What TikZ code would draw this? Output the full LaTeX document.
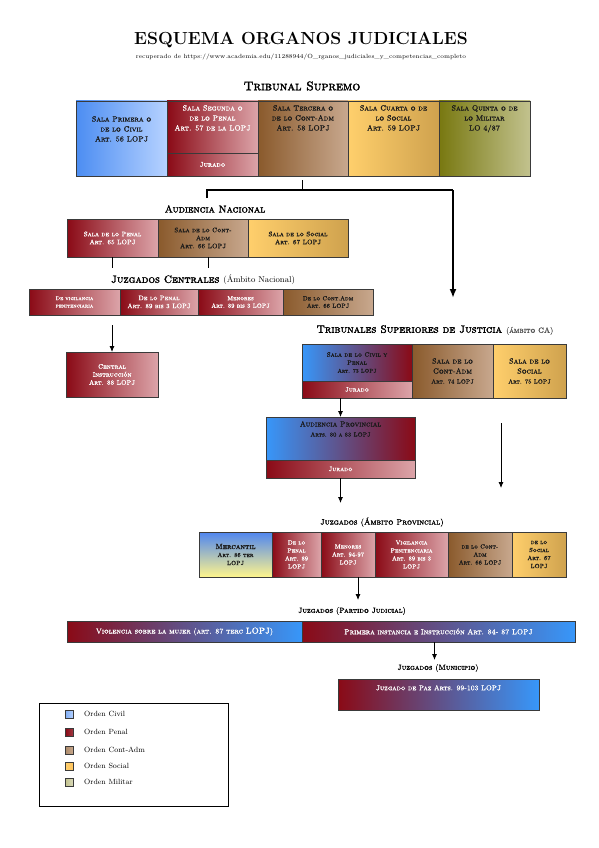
\documentclass[tikz,border=0pt]{standalone}
\usepackage{fontspec}
\newfontfamily\scb{lmromancaps10-regular.otf}[FakeBold=1.5]
\newfontfamily\scbb{lmromancaps10-regular.otf}[FakeBold=2.5]
\usetikzlibrary{arrows.meta}
\definecolor{bord}{HTML}{3A3A3A}
\definecolor{civL}{HTML}{4C8DF2}
\definecolor{civR}{HTML}{B6D2FF}
\definecolor{penL}{HTML}{8A0A16}
\definecolor{penR}{HTML}{DCA4A9}
\definecolor{canL}{HTML}{8A5A2C}
\definecolor{canR}{HTML}{C8A88E}
\definecolor{socL}{HTML}{FFCF6C}
\definecolor{socR}{HTML}{CFA24E}
\definecolor{milL}{HTML}{787810}
\definecolor{milR}{HTML}{C2C28E}
\definecolor{bluM}{HTML}{3797FA}
\definecolor{merB}{HTML}{4F86F0}
\definecolor{merM}{HTML}{D8E2EC}
\definecolor{merY}{HTML}{FFF58C}
\definecolor{txtD}{HTML}{1A1A1A}
\definecolor{txtG}{HTML}{555555}
\tikzset{
  box/.style={draw=bord, line width=0.9pt, inner sep=1pt, outer sep=0pt, align=center,
    font=\fontsize{6.5}{8}\selectfont\scb, text=txtD},
  civ/.style={left color=civL, right color=civR},
  pen/.style={left color=penL, right color=penR, text=white},
  can/.style={left color=canL, right color=canR},
  soc/.style={left color=socL, right color=socR},
  mil/.style={left color=milL, right color=milR},
  merc/.style={top color=merB, middle color=merM, bottom color=merY},
  bluered/.style={left color=bluM, right color=penL},
  redblue/.style={left color=penL, right color=bluM, text=white},
  heading/.style={inner sep=0pt, font=\fontsize{10}{12}\selectfont\scbb},
  tstext/.style={inner sep=0pt, align=center, anchor=north, text=txtD,
    font=\fontsize{7.5}{10}\selectfont\scb},
  arr/.style={line width=0.8pt, -{Latex[length=6pt,width=5pt]}},
  bigarr/.style={line width=1.8pt, -{Latex[length=9pt,width=7pt]}},
  conn/.style={line width=0.8pt},
  thickconn/.style={line width=1.6pt},
  legsq/.style={draw=bord, line width=0.8pt, minimum size=8pt, inner sep=0pt},
  legtxt/.style={anchor=west, inner sep=0pt, font=\fontsize{7.5}{9}\selectfont},
}
\newcommand\bx[7]{\node[box,#6,anchor=north west,minimum width={#4pt-#2pt},minimum height={#5pt-#3pt}] (#1) at (#2,#3) {#7};}
\begin{document}
\begin{tikzpicture}[x=1pt,y=-1pt]
\useasboundingbox[fill=white] (0,0) rectangle (599,848);
% titles
\node[inner sep=0pt, font=\fontsize{17.5}{19}\selectfont\bfseries] (title) at (301,40) {ESQUEMA ORGANOS JUDICIALES};
\node[inner sep=0pt, font=\fontsize{6}{7}\selectfont] (src) at (301,57) {recuperado de https://www.academia.edu/11288944/O\_rganos\_judiciales\_y\_competencias\_completo};
\node[heading, font=\fontsize{12.5}{14}\selectfont\scbb] (tstitle) at (302,86) {Tribunal Supremo};
% Tribunal Supremo
\bx{ts1}{76}{101}{167}{176}{civ}{}
\node[tstext] (ts1t) at (121.5,116) {Sala Primera o\\de lo Civil\\Art. 56 LOPJ};
\bx{ts2}{167}{101}{258}{153}{pen}{}
\node[tstext, text=white] (ts2t) at (212.5,105) {Sala Segunda o\\de lo Penal\\Art. 57 de la LOPJ};
\bx{ts2j}{167}{153}{258}{176}{pen, font=\fontsize{7}{8}\selectfont\scb}{Jurado}
\bx{ts3}{258}{101}{348}{176}{can}{}
\node[tstext] (ts3t) at (303,105) {Sala Tercera o\\de lo Cont-Adm\\Art. 58 LOPJ};
\bx{ts4}{348}{101}{439}{176}{soc}{}
\node[tstext] (ts4t) at (393.5,105) {Sala Cuarta o de\\lo Social\\Art. 59 LOPJ};
\bx{ts5}{439}{101}{530}{176}{mil}{}
\node[tstext] (ts5t) at (484.5,105) {Sala Quinta o de\\lo Militar\\LO 4/87};
% Audiencia Nacional
\node[heading] (antitle) at (215,209) {Audiencia Nacional};
\bx{an1}{67}{219}{158}{257}{pen}{Sala de lo Penal\\Art. 65 LOPJ}
\bx{an2}{158}{219}{248}{257}{can}{Sala de lo Cont-\\Adm\\Art. 66 LOPJ}
\bx{an3}{248}{219}{348}{257}{soc}{Sala de lo Social\\Art. 67 LOPJ}
\draw[conn] (an1.south) -- ++(0,11);
\draw[conn] ([xshift=5pt]an2.south) -- ++(0,11);
% main connector
\coordinate (j1) at (302,190);
\coordinate (jl) at (207,190);
\coordinate (jls) at (207,198);
\coordinate (jr) at (453,190);
\coordinate (tsjin) at (453,298);
\draw[conn] ([yshift=-4pt]ts3.south -| j1) -- (j1);
\draw[thickconn] (jls) -- (jl) -- (jr);
\draw[bigarr] (jr) -- (tsjin);
% Juzgados Centrales
\node[heading, font=\fontsize{10.5}{12}\selectfont\scbb] (jctitle) at (203,280) {Juzgados Centrales {\normalfont\fontsize{8.5}{9}\selectfont(Ámbito Nacional)}};
\bx{jc1}{29}{289}{120}{315}{pen, font=\fontsize{5.5}{7.5}\selectfont\scb}{De vigilancia\\penitenciaria}
\bx{jc2}{120}{289}{198}{315}{pen}{De lo Penal\\Art. 89 bis 3 LOPJ}
\bx{jc3}{198}{289}{283}{315}{pen, font=\fontsize{6}{7.5}\selectfont\scb}{Menores\\Art. 89 bis 3 LOPJ}
\bx{jc4}{283}{289}{373}{315}{can, font=\fontsize{6}{7.5}\selectfont\scb}{De lo Cont.Adm\\Art. 66 LOPJ}
\bx{central}{66}{352}{158}{397}{pen}{Central\\Instrucción\\Art. 88 LOPJ}
\coordinate (jcout) at (112,325);
\draw[arr] (jcout) -- (central.north);
% Tribunales Superiores de Justicia
\node[heading, font=\fontsize{10.6}{12}\selectfont\scbb] (tsjtitle) at (435,330) {Tribunales Superiores de Justicia {\scb\fontsize{7.5}{8}\selectfont\color{txtG}(ámbito CA)}};
\bx{tsj1}{302}{344}{412}{381}{bluered}{Sala de lo Civil y\\Penal\\{\fontsize{5.5}{6}\selectfont Art. 73 LOPJ}}
\bx{tsj1j}{302}{381}{412}{398}{pen}{Jurado}
\bx{tsj2}{412}{344}{493}{398}{can, font=\fontsize{7.5}{10}\selectfont\scb}{Sala de lo\\Cont-Adm\\{\fontsize{6}{7}\selectfont Art. 74 LOPJ}}
\bx{tsj3}{493}{344}{566}{398}{soc, font=\fontsize{7.5}{10}\selectfont\scb}{Sala de lo\\Social\\{\fontsize{6}{7}\selectfont Art. 75 LOPJ}}
% Audiencia Provincial
\bx{ap}{266}{417}{415}{460}{bluered}{}
\node[tstext, font=\fontsize{7.5}{10}\selectfont\scb] (apt) at (340.5,421) {Audiencia Provincial\\{\fontsize{6}{7}\selectfont Arts. 80 a 83 LOPJ}};
\bx{apj}{266}{460}{415}{478}{pen}{Jurado}
\draw[arr] (ap.north |- tsj1j.south) -- (ap.north);
\coordinate (provin) at (340.5,503);
\draw[arr] (apj.south) -- (provin);
\coordinate (a2s) at (501,423);
\coordinate (a2e) at (501,488);
\draw[arr] (a2s) -- (a2e);
% Juzgados ambito provincial
\node[heading, font=\fontsize{8}{9}\selectfont\scb] (prtitle) at (382,522) {Juzgados (Ámbito Provincial)};
\bx{p1}{199}{532}{272}{577}{merc, font=\fontsize{6}{8}\selectfont\scb}{{\scbb\fontsize{7.5}{8}\selectfont Mercantil}\\Art. 86 ter\\LOPJ}
\bx{p2}{272}{532}{321}{577}{pen, font=\fontsize{6}{8}\selectfont\scb}{De lo\\Penal\\Art. 89\\LOPJ}
\bx{p3}{321}{532}{375}{577}{pen, font=\fontsize{6}{8}\selectfont\scb}{Menores\\Art. 94-97\\LOPJ}
\bx{p4}{375}{532}{448}{577}{pen, font=\fontsize{6}{8}\selectfont\scb}{Vigilancia\\Penitenciaria\\Art. 89 bis 3\\LOPJ}
\bx{p5}{448}{532}{512}{577}{can, font=\fontsize{6}{8}\selectfont\scb}{de lo Cont-\\Adm\\Art. 66 LOPJ}
\bx{p6}{512}{532}{566}{577}{soc, font=\fontsize{6}{8}\selectfont\scb}{de lo\\Social\\Art. 67\\LOPJ}
\coordinate (pdown) at (358,600);
\draw[arr] ([xshift=10pt]p3.south) -- (pdown);
% Partido judicial
\node[heading, font=\fontsize{7.5}{9}\selectfont\scb] (pjtitle) at (352,611) {Juzgados (Partido Judicial)};
\bx{pj1}{67}{621}{302}{642}{redblue, font=\fontsize{7.3}{8}\selectfont\scb}{Violencia sobre la mujer (art. 87 terc {\scbb\fontsize{8.5}{9}\selectfont LOPJ})}
\bx{pj2}{302}{621}{575}{642}{redblue, font=\fontsize{7.3}{8}\selectfont\scb}{Primera instancia e Instrucción Art. 84- 87 LOPJ}
\coordinate (pjdown) at (434.5,660);
\draw[arr] ([xshift=-4pt]pj2.south) -- (pjdown);
% Municipio
\node[heading, font=\fontsize{7.5}{9}\selectfont\scb] (mutitle) at (438,668) {Juzgados (Municipio)};
\bx{paz}{338}{679}{539}{710}{redblue}{}
\node[tstext, text=white, font=\fontsize{7}{8}\selectfont\scb] (pazt) at (438.5,685) {Juzgado de Paz Arts. 99-103 LOPJ};
% legend
\node[draw=black, line width=0.8pt, anchor=north west, minimum width=189pt, minimum height=103pt, inner sep=0pt] (legend) at (39,703) {};
\node[legsq, left color=civL!70!white, right color=civR] (l1) at (69.5,714) {};
\node[legtxt] (l1t) at (84,714) {Orden Civil};
\node[legsq, left color=penL, right color=penL!80!white] (l2) at (69.5,732) {};
\node[legtxt] (l2t) at (84,732) {Orden Penal};
\node[legsq, left color=canL!70!white, right color=canR] (l3) at (69.5,750) {};
\node[legtxt] (l3t) at (84,750) {Orden Cont-Adm};
\node[legsq, left color=socL, right color=socL!85!orange] (l4) at (69.5,766) {};
\node[legtxt] (l4t) at (84,766) {Orden Social};
\node[legsq, left color=milR, right color=milR!60!white] (l5) at (69.5,782) {};
\node[legtxt] (l5t) at (84,782) {Orden Militar};
\end{tikzpicture}
\end{document}
